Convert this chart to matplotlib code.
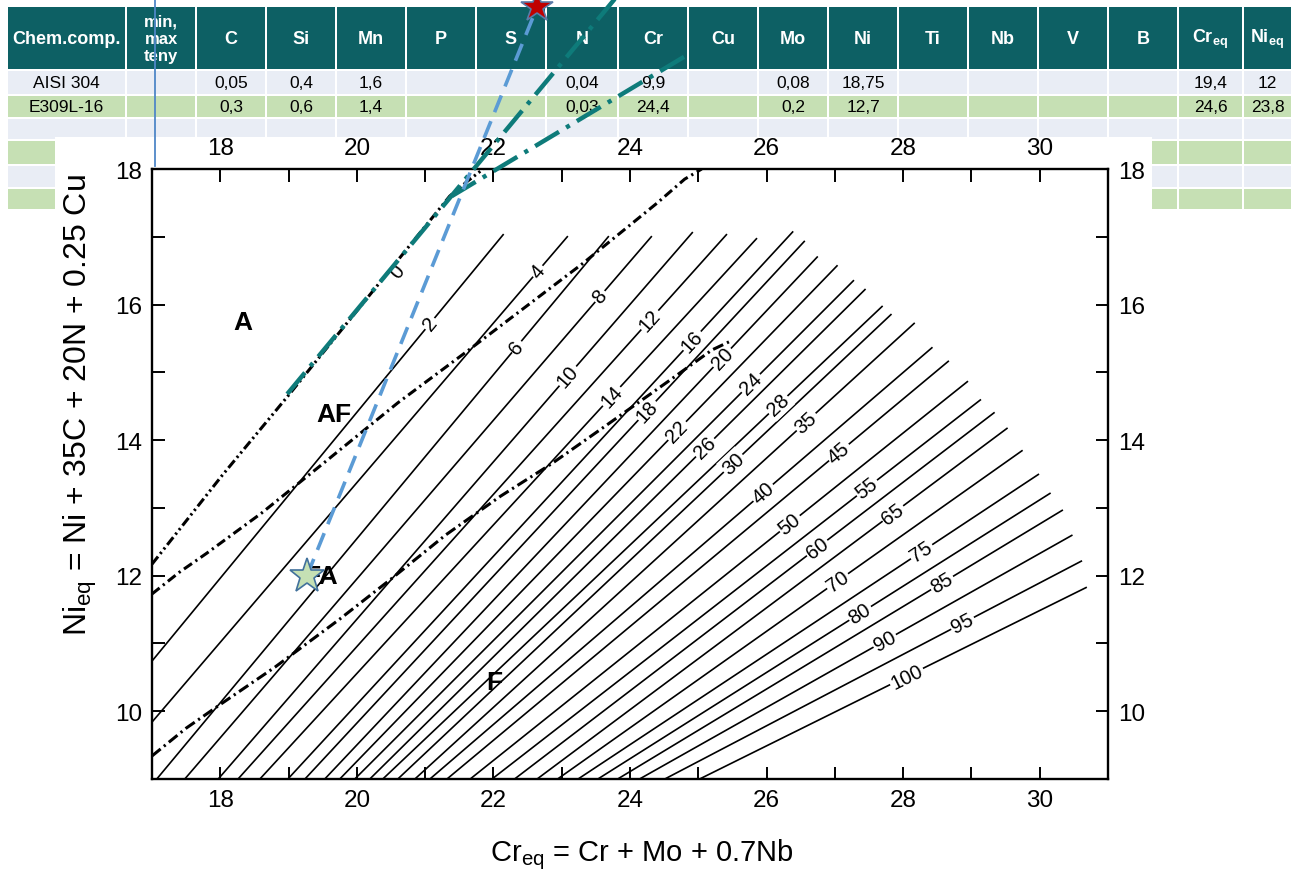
import numpy as np
import matplotlib
matplotlib.use('Agg')
import matplotlib.pyplot as plt
from matplotlib.patches import Rectangle
from matplotlib.ticker import FixedLocator

plt.rcParams['font.family'] = ['Liberation Sans', 'DejaVu Sans']
plt.rcParams['lines.scale_dashes'] = False
plt.rcParams['mathtext.fontset'] = 'custom'
plt.rcParams['mathtext.rm'] = 'Liberation Sans'
plt.rcParams['mathtext.it'] = 'Liberation Sans:italic'
plt.rcParams['mathtext.bf'] = 'Liberation Sans:bold'

# ---------------- table data ----------------
table_headers = ["Chem.comp.", "min,\nmax\nteny", "C", "Si", "Mn", "P", "S", "N", "Cr", "Cu",
                 "Mo", "Ni", "Ti", "Nb", "V", "B", r"Cr$_{\mathregular{eq}}$", r"Ni$_{\mathregular{eq}}$"]
row_aisi304 = ["AISI 304", "", "0,05", "0,4", "1,6", "", "", "0,04", "9,9", "", "0,08", "18,75",
               "", "", "", "", "19,4", "12"]
row_e309l = ["E309L-16", "", "0,3", "0,6", "1,4", "", "", "0,03", "24,4", "", "0,2", "12,7",
             "", "", "", "", "24,6", "23,8"]

# ---------------- diagram data (Creq, Nieq) ----------------
fn_values = [2, 4, 6, 8, 10, 12, 14, 16, 18, 20, 22, 24, 26, 28, 30,
             35, 40, 45, 50, 55, 60, 65, 70, 75, 80, 85, 90, 95, 100]
fn_x0 = [17.0, 17.0, 17.07, 17.48, 17.97, 18.26, 18.58, 18.99, 19.24, 19.53, 19.75, 19.97, 20.19,
         20.38, 20.60, 20.85, 21.07, 21.32, 21.66, 21.98, 22.31, 22.64, 22.94, 23.24, 23.53,
         23.82, 24.14, 24.51, 25.02]
fn_y0 = [10.74, 9.84, 9.0, 9.0, 9.0, 9.0, 9.0, 9.0, 9.0, 9.0, 9.0, 9.0, 9.0, 9.0, 9.0,
         9.0, 9.0, 9.0, 9.0, 9.0, 9.0, 9.0, 9.0, 9.0, 9.0, 9.0, 9.0, 9.0, 9.0]
fn_x1 = [22.15, 23.09, 23.69, 24.32, 24.92, 25.42, 25.86, 26.39, 26.56, 26.75, 27.04, 27.28, 27.45,
         27.70, 27.83, 28.17, 28.43, 28.67, 28.95, 29.14, 29.34, 29.53, 29.75, 29.99, 30.16,
         30.34, 30.48, 30.62, 30.69]
fn_y1 = [17.04, 17.01, 17.01, 17.01, 17.07, 17.04, 16.98, 17.08, 16.94, 16.71, 16.58, 16.36, 16.23,
         15.98, 15.86, 15.73, 15.37, 15.17, 14.87, 14.60, 14.41, 14.18, 13.85, 13.50, 13.22,
         12.97, 12.60, 12.22, 11.83]
fn_label_x = [21.07, 22.65, 22.34, 23.56, 23.09, 24.29, 23.73, 24.91, 24.25, 25.35, 24.69, 25.77,
              25.10, 26.17, 25.51, 26.58, 25.95, 27.06, 26.34, 27.47, 26.74, 27.85, 27.04, 28.27,
              27.37, 28.57, 27.73, 28.87, 28.05]
fn0_label = (20.59, 16.49)

a_af_x = [17.0, 18.02, 18.99, 21.36, 21.62, 21.85]
a_af_y = [12.17, 13.47, 14.65, 17.60, 17.82, 18.0]
af_fa_x = [17.0, 17.4, 17.8, 18.6, 19.5, 20.6, 21.6, 23.3, 24.4, 24.8, 25.05]
af_fa_y = [11.73, 12.05, 12.33, 12.92, 13.65, 14.55, 15.30, 16.60, 17.50, 17.85, 18.0]
fa_f_x = [17.0, 17.5, 18.0, 18.8, 19.75, 20.5, 21.3, 22.1, 22.85, 23.6, 24.55, 25.2, 25.45]
fa_f_y = [9.34, 9.75, 10.10, 10.65, 11.36, 11.95, 12.60, 13.17, 13.65, 14.18, 14.86, 15.33, 15.45]

region_names = ["A", "AF", "FA", "F"]
region_x = [18.33, 19.66, 19.47, 22.02]
region_y = [15.74, 14.38, 11.99, 10.43]

star_base = (19.27, 12.0)      # AISI 304
star_filler = (22.64, 20.39)   # E309L-16 (outside plot)
teal1_x = [18.98, 24.0]
teal1_y = [14.68, 20.78]
teal2_x = [21.39, 24.85]
teal2_y = [17.60, 19.69]

x_major = [18, 20, 22, 24, 26, 28, 30]
x_minor = [19, 21, 23, 25, 27, 29]
y_major = [10, 12, 14, 16, 18]
y_minor = [11, 13, 15, 17]

# ---------------- figure ----------------
W, H = 1293, 878
fig = plt.figure(figsize=(W / 100, H / 100), dpi=100)
tab = fig.add_axes([0, 0, 1, 1], zorder=0)
tab.set_xlim(0, W)
tab.set_ylim(H, 0)
tab.axis('off')

col_edges = [7, 126, 196, 266, 336, 406, 476, 546, 618, 688, 758, 828, 898, 968, 1038, 1108,
             1178, 1243, 1292]
row_edges = [7, 71, 96, 119, 141, 166, 189, 211]
row_colors = ['#0D6064', '#E9EDF5', '#C6E0B4', '#E9EDF5', '#C6E0B4', '#E9EDF5', '#C6E0B4']
for r in range(len(row_edges) - 1):
    for c in range(len(col_edges) - 1):
        x0, x1 = col_edges[c] + 1, col_edges[c + 1] - 1
        y0, y1 = row_edges[r] + 1, row_edges[r + 1] - 1
        tab.add_patch(Rectangle((x0, y0), x1 - x0, y1 - y0, fc=row_colors[r], ec='none', zorder=1))

for c, s in enumerate(table_headers):
    cx = (col_edges[c] + col_edges[c + 1]) / 2
    fs = 12 if c == 1 else 13
    tab.text(cx, 39, s, color='white', fontweight='bold', fontsize=fs, ha='center', va='center',
             linespacing=1.2, zorder=2)
for r, row in enumerate([row_aisi304, row_e309l]):
    cy = (row_edges[r + 1] + row_edges[r + 2]) / 2
    for c, s in enumerate(row):
        if s:
            cx = (col_edges[c] + col_edges[c + 1]) / 2
            tab.text(cx, cy, s, color='black', fontsize=12.5, ha='center', va='center', zorder=2)

# white box of the pasted diagram
tab.add_patch(Rectangle((55, 138), 1152 - 55, H - 138, fc='white', ec='none', zorder=3))
# thin blue vertical line
tab.plot([155, 155], [0, 167], color='#4F87C7', lw=1.3, zorder=4)

# axis titles
tab.text(642, 855, r"Cr$_{\mathregular{eq}}$ = Cr + Mo + 0.7Nb", fontsize=21,
         ha='center', va='center', zorder=5)
tab.text(80, 405, r"Ni$_{\mathregular{eq}}$ = Ni + 35C + 20N + 0.25 Cu", fontsize=23, rotation=90,
         ha='center', va='center', zorder=5)

# ---------------- main diagram ----------------
ax = fig.add_axes([152 / W, 1 - 780 / H, (1108 - 152) / W, (780 - 170) / H], zorder=1)
ax.patch.set_alpha(0)
ax.set_xlim(17, 31)
ax.set_ylim(9, 18)
ax.xaxis.set_major_locator(FixedLocator(x_major))
ax.xaxis.set_minor_locator(FixedLocator(x_minor))
ax.yaxis.set_major_locator(FixedLocator(y_major))
ax.yaxis.set_minor_locator(FixedLocator(y_minor))
ax.tick_params(which='both', direction='in', top=True, right=True, labeltop=True,
               labelright=True, length=9, width=1.4, labelsize=17.5, pad=7)
for sp in ax.spines.values():
    sp.set_linewidth(1.7)

for v, x0, y0, x1, y1, lx in zip(fn_values, fn_x0, fn_y0, fn_x1, fn_y1, fn_label_x):
    ax.plot([x0, x1], [y0, y1], color='black', lw=1.2, solid_capstyle='butt', zorder=2)
    t = (lx - x0) / (x1 - x0)
    ly = y0 + t * (y1 - y0)
    ang = np.degrees(np.arctan2(y1 - y0, x1 - x0))
    ax.text(lx, ly, str(v), rotation=ang, transform_rotates_text=True, rotation_mode='anchor',
            ha='center', va='center', fontsize=14.5,
            bbox=dict(boxstyle='square,pad=0.08', fc='white', ec='none'), zorder=3)
ang0 = np.degrees(np.arctan2(fn_y1[0] - fn_y0[0], fn_x1[0] - fn_x0[0]))
ax.text(fn0_label[0], fn0_label[1], "0", rotation=ang0, transform_rotates_text=True,
        rotation_mode='anchor', ha='center', va='center', fontsize=14.5, zorder=3)

ax.plot(a_af_x, a_af_y, color='black', lw=2.2, dashes=(7, 2.5, 1.6, 2.5, 1.6, 2.5), zorder=4)
ax.plot(af_fa_x, af_fa_y, color='black', lw=2.2, dashes=(7, 3, 1.6, 3), zorder=4)
ax.plot(fa_f_x, fa_f_y, color='black', lw=2.2, dashes=(8, 3, 1.6, 3), zorder=4)

for name, x, y in zip(region_names, region_x, region_y):
    ax.text(x, y, name, fontsize=19, fontweight='bold', ha='center', va='center', zorder=5)

# overlays (extend beyond the axes into the table)
ax.plot(teal1_x, teal1_y, color='#0E7B7A', lw=3.2, dashes=(20, 6, 3, 6), clip_on=False, zorder=6)
ax.plot(teal2_x, teal2_y, color='#0E7B7A', lw=3.2, dashes=(20, 6, 3, 6), clip_on=False, zorder=6)
ax.plot([star_base[0], star_filler[0]], [star_base[1], star_filler[1]], color='#5B9BD5', lw=2.6,
        dashes=(13, 7), clip_on=False, zorder=7)
ax.plot([star_base[0]], [star_base[1]], marker='*', markersize=26, mfc='#C5E0B4', mec='#41719C',
        mew=1.2, clip_on=False, zorder=8, linestyle='none')
ax.plot([star_filler[0]], [star_filler[1]], marker='*', markersize=24, mfc='#C00000', mec='#5A7BA8',
        mew=1.2, clip_on=False, zorder=8, linestyle='none')

fig.savefig('out.png', dpi=100)
